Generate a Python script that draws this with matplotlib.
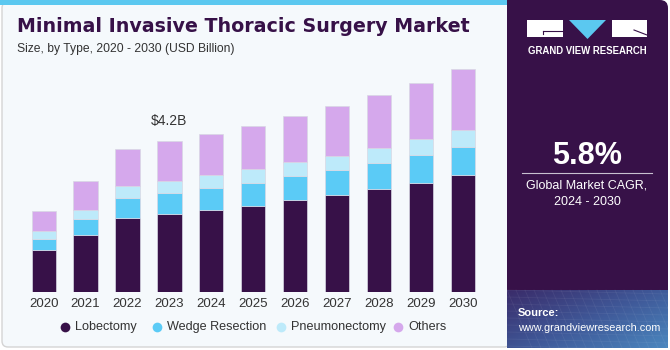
import numpy as np
import matplotlib
matplotlib.use("Agg")
import matplotlib.pyplot as plt
from matplotlib.patches import Rectangle, FancyBboxPatch, Polygon

# data (USD billion)
years = ["2020", "2021", "2022", "2023", "2024", "2025", "2026", "2027", "2028", "2029", "2030"]
lobectomy = [1.16, 1.59, 2.06, 2.17, 2.29, 2.40, 2.56, 2.69, 2.88, 3.04, 3.25]
wedge = [0.31, 0.45, 0.57, 0.60, 0.61, 0.65, 0.66, 0.71, 0.72, 0.78, 0.80]
pneumo = [0.22, 0.25, 0.33, 0.33, 0.35, 0.37, 0.39, 0.38, 0.42, 0.44, 0.47]
others = [0.58, 0.79, 1.02, 1.11, 1.14, 1.22, 1.30, 1.40, 1.47, 1.56, 1.69]
series_names = ["Lobectomy", "Wedge Resection", "Pneumonectomy", "Others"]
series_colors = ["#371148", "#5bcbf6", "#bdeafa", "#d5a8ec"]
callout_year = "2023"
callout_text = "$4.2B"
cagr = "5.8%"

plt.rcParams['font.family'] = ['Liberation Sans', 'DejaVu Sans']

W, H = 670, 350
fig = plt.figure(figsize=(W / 100, H / 100), dpi=100)
fig.patch.set_facecolor("white")

# background layer in pixel coords
bg = fig.add_axes([0, 0, 1, 1])
bg.set_xlim(0, W)
bg.set_ylim(H, 0)
bg.axis("off")

# left panel
bg.add_patch(FancyBboxPatch((2, 2), 508, 345, boxstyle="round,pad=0,rounding_size=6",
                            facecolor="#f5f9fc", edgecolor="#d4d4d4", linewidth=1.0))
bg.add_patch(Rectangle((0, 0), 508, 5, facecolor="#5bc8f0", edgecolor="none"))

# right panel
bg.add_patch(FancyBboxPatch((507, 0), 161, 300, boxstyle="round,pad=0,rounding_size=8",
                            facecolor="#371148", edgecolor="none"))
bg.add_patch(Rectangle((507, 0), 20, 300, facecolor="#371148", edgecolor="none"))

# source area gradient
gx = np.linspace(0, 1, 80)
gy = np.linspace(0, 1, 30)
gxx, gyy = np.meshgrid(gx, gy)
grad = 0.55 * gxx + 0.45 * gyy
bg.imshow(grad, extent=(507, 668, 348, 290), cmap=matplotlib.colors.LinearSegmentedColormap.from_list(
    "src", ["#3a2c6a", "#3f5797", "#4a86be"]), aspect="auto", zorder=1)
for k in range(0, 170, 9):
    bg.plot([507 + k, 507 + k + 25], [290, 348], color="white", alpha=0.06, lw=0.6, zorder=2)
for k in range(290, 350, 7):
    bg.plot([507, 668], [k, k + 4], color="white", alpha=0.06, lw=0.6, zorder=2)
bg.text(518, 313, "Source:", color="white", fontsize=8, fontweight="bold", va="center", zorder=3)
bg.text(518, 328, "www.grandviewresearch.com", color="white", fontsize=7.8, va="center", zorder=3)

# logo
bg.add_patch(Rectangle((527, 20), 36, 17, facecolor="white", edgecolor="none"))
bg.plot([543, 563], [31, 31], color="#371148", lw=0.8)
bg.plot([543, 543], [31, 34], color="#371148", lw=0.8)
bg.add_patch(Polygon([(569, 20), (606, 20), (587.5, 39)], closed=True, facecolor="#5bc8f0", edgecolor="none"))
bg.add_patch(Rectangle((612, 20), 35, 17, facecolor="white", edgecolor="none"))
bg.plot([634, 647], [30, 35], color="#371148", lw=0.8)
bg.text(587, 51, "GRAND VIEW RESEARCH", color="white", fontsize=6.9, fontweight="bold",
        ha="center", va="center")

# CAGR box
bg.text(587, 156, cagr, color="white", fontsize=22, fontweight="bold", ha="center", va="center")
bg.plot([522, 652], [173, 173], color="#c8c0d0", lw=0.8)
bg.text(587, 186, "Global Market CAGR,", color="white", fontsize=9, ha="center", va="center")
bg.text(587, 202, "2024 - 2030", color="white", fontsize=9, ha="center", va="center")

# titles
bg.text(17, 27, "Minimal Invasive Thoracic Surgery Market", color="#371148", fontsize=13.7,
        fontweight="bold", va="center", family="DejaVu Sans")
bg.text(17, 49, "Size, by Type, 2020 - 2030 (USD Billion)", color="#333333", fontsize=8.7,
        va="center")

# bar chart
ax = fig.add_axes([22.75 / W, 58 / H, 461 / W, 232 / H])
ax.patch.set_alpha(0)
x = np.arange(len(years))
bottom = np.zeros(len(years))
for vals, name, col in zip([lobectomy, wedge, pneumo, others], series_names, series_colors):
    ax.bar(x, vals, width=0.58, bottom=bottom, color=col, edgecolor="#d8d8e4",
           linewidth=0.5, label=name)
    bottom += np.array(vals)

i = years.index(callout_year)
ax.text(x[i], bottom[i] + 0.35, callout_text, ha="center", va="bottom", fontsize=10, color="#333333")

ax.set_xlim(-0.5, len(years) - 0.5)
ax.set_ylim(0, 6.466)
ax.set_xticks(x)
ax.set_xticklabels(years, fontsize=9.5, color="#333333")
ax.tick_params(axis="x", length=0, pad=4)
ax.set_yticks([])
for s in ax.spines.values():
    s.set_visible(False)

# legend, placed by hand like the reference
legend_x = [65, 157, 281, 398]
for lx, name, col in zip(legend_x, series_names, series_colors):
    bg.plot([lx], [327], marker="o", markersize=7, color=col, markeredgecolor="none")
    bg.text(lx + 10, 327, name, fontsize=9.1, color="#333333", va="center")

fig.savefig("out.png", dpi=100, facecolor=fig.get_facecolor())
